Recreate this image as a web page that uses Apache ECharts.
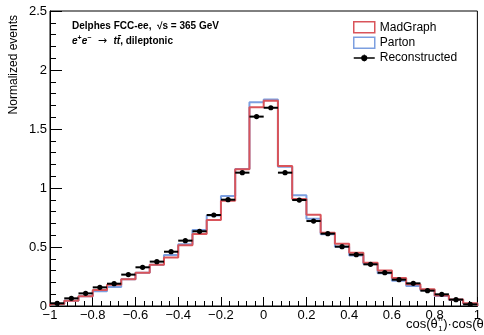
<!DOCTYPE html>
<html>
<head>
<meta charset="utf-8">
<script src="https://cdn.jsdelivr.net/npm/echarts@6/dist/echarts.min.js"></script>
<style>
  html, body { margin: 0; padding: 0; background: #fff; }
  #main { width: 484px; height: 335px; }
</style>
</head>
<body>
<div id="main"></div>
<script>
// binning: 30 bins on [-1, 1]
var xMin = -1, xMax = 1, nBins = 30;

// values, one per bin
var madgraph = [0.017, 0.045, 0.082, 0.136, 0.180, 0.226, 0.282, 0.350, 0.410, 0.514,
                0.610, 0.729, 0.893, 1.158, 1.684, 1.740, 1.186, 0.907, 0.774, 0.621,
                0.528, 0.452, 0.367, 0.300, 0.237, 0.184, 0.141, 0.090, 0.056, 0.023];
var parton   = [0.017, 0.045, 0.082, 0.124, 0.160, 0.226, 0.282, 0.350, 0.432, 0.523,
                0.644, 0.766, 0.932, 1.161, 1.726, 1.751, 1.180, 0.938, 0.740, 0.607,
                0.503, 0.427, 0.356, 0.277, 0.215, 0.170, 0.133, 0.085, 0.054, 0.020];
var reco     = [0.023, 0.065, 0.107, 0.158, 0.189, 0.266, 0.328, 0.376, 0.460, 0.554,
                0.633, 0.771, 0.901, 1.130, 1.605, 1.680, 1.130, 0.898, 0.720, 0.613,
                0.503, 0.435, 0.353, 0.282, 0.223, 0.192, 0.130, 0.099, 0.054, 0.014];

var red = '#d9545a';
var blue = '#7c9fe0';
var font = '"Liberation Sans", Arial, sans-serif';

var binW = (xMax - xMin) / nBins;

// histogram outline as step points on bin edges
function stepData(vals) {
    var pts = [[xMin, 0]];
    vals.forEach(function (v, i) {
        pts.push([xMin + i * binW, v]);
    });
    pts.push([xMax, vals[vals.length - 1]]);
    pts.push([xMax, 0]);
    return pts;
}

var recoData = reco.map(function (v, i) {
    return [xMin + (i + 0.5) * binW, v];
});

function renderReco(params, api) {
    var x = api.value(0), y = api.value(1);
    var l = api.coord([x - binW / 2, y]);
    var r = api.coord([x + binW / 2, y]);
    var c = api.coord([x, y]);
    return {
        type: 'group',
        children: [{
            type: 'line',
            shape: { x1: l[0], y1: l[1], x2: r[0], y2: r[1] },
            style: { stroke: '#000', lineWidth: 2 }
        }, {
            type: 'circle',
            shape: { cx: c[0], cy: c[1], r: 2.6 },
            style: { fill: '#000' }
        }]
    };
}

function fmt(v) {
    var s = v === 0 ? '0' : String(+v.toFixed(1));
    return s.replace('-', '\u2212');
}

// x title: cos(θ_1^n)·cos(θ_2^n) with stacked sub/superscripts
var ctx = document.createElement('canvas').getContext('2d');
function textW(t, f) { ctx.font = f; return ctx.measureText(t).width; }
function xTitle(x0, y0) {
    var big = '13px ' + font, small = '8px ' + font;
    var parts = [['cos(\u03B8', 'n', '1'], [')\u00B7cos(\u03B8', 'n', '2'], [')', null, null]];
    var out = [], x = x0;
    parts.forEach(function (p) {
        out.push({ type: 'text', x: x, y: y0,
            style: { text: p[0], font: big, fill: '#000', verticalAlign: 'middle' } });
        x += textW(p[0], big);
        if (p[1]) {
            out.push({ type: 'text', x: x + 0.5, y: y0 - 5,
                style: { text: p[1], font: small, fill: '#000', verticalAlign: 'middle' } });
            out.push({ type: 'text', x: x + 0.5, y: y0 + 5,
                style: { text: p[2], font: small, fill: '#000', verticalAlign: 'middle' } });
            x += textW(p[1], small) + 1;
        }
    });
    return out;
}

var myChart = echarts.init(document.getElementById('main'), null, { renderer: 'canvas' });

myChart.setOption({
    animation: false,
    backgroundColor: '#fff',
    textStyle: { fontFamily: font },
    grid: {
        left: 50, right: 2, top: 11, bottom: 29,
        show: true, borderColor: '#000', borderWidth: 1
    },
    legend: {
        left: 353, top: 21,
        orient: 'vertical',
        itemWidth: 21, itemHeight: 11, itemGap: 3,
        padding: 0,
        textStyle: { fontFamily: font, fontSize: 12, color: '#000' },
        data: [{
            name: 'MadGraph', icon: 'rect',
            itemStyle: { color: 'rgba(0,0,0,0)', borderColor: red, borderWidth: 1.5 }
        }, {
            name: 'Parton', icon: 'rect',
            itemStyle: { color: 'rgba(0,0,0,0)', borderColor: blue, borderWidth: 1.5 }
        }, {
            name: 'Reconstructed',
            icon: 'path://M0,5.3H21V6.7H0Z M7.4,6A3.1,3.1 0 1 1 13.6,6A3.1,3.1 0 1 1 7.4,6Z M10,2.5H11V9.5H10Z',
            itemStyle: { color: '#000', borderWidth: 0 }
        }]
    },
    xAxis: {
        type: 'value',
        min: xMin, max: xMax, interval: 0.2,
        axisLine: { show: true, onZero: false, lineStyle: { color: '#000', width: 1 } },
        axisTick: { show: true, inside: true, length: 9, lineStyle: { color: '#000' } },
        minorTick: { show: true, splitNumber: 5, length: 5, lineStyle: { color: '#000' } },
        splitLine: { show: false },
        axisLabel: {
            color: '#000', fontSize: 13, fontFamily: font, margin: 3,
            showMinLabel: true, showMaxLabel: true,
            formatter: fmt
        }
    },
    yAxis: {
        type: 'value',
        min: 0, max: 2.5, interval: 0.5,
        axisLine: { show: true, onZero: false, lineStyle: { color: '#000', width: 1 } },
        axisTick: { show: true, inside: true, length: 12, lineStyle: { color: '#000' } },
        minorTick: { show: true, splitNumber: 5, length: 6, lineStyle: { color: '#000' } },
        splitLine: { show: false },
        axisLabel: {
            color: '#000', fontSize: 13, fontFamily: font, margin: 3,
            formatter: fmt
        }
    },
    graphic: [{
        // y axis title
        type: 'text',
        x: 14, y: 15,
        rotation: Math.PI / 2,
        style: {
            text: 'Normalized events',
            font: '12px ' + font,
            fill: '#000',
            align: 'right',
            verticalAlign: 'middle'
        }
    }, {
        type: 'group',
        children: xTitle(406, 324)
    }, {
        type: 'text',
        x: 72, y: 26,
        style: {
            text: 'Delphes FCC-ee,  \u221As = 365 GeV',
            font: 'bold 10px ' + font,
            fill: '#000',
            verticalAlign: 'middle'
        }
    }, {
        type: 'text',
        x: 72, y: 41,
        style: {
            text: '{i|e}{sup|+}{i|e}{sup|\u2212}{a| \u2192 }{i|tt\u0304}{b|, dileptonic}',
            verticalAlign: 'middle',
            rich: {
                i: { font: 'italic bold 10px ' + font, fill: '#000' },
                b: { font: 'bold 10px ' + font, fill: '#000' },
                a: { font: '11px "DejaVu Sans"', fill: '#000', padding: [0, 3, 0, 3] },
                sup: { font: 'bold 7px ' + font, fill: '#000', padding: [0, 0, 6, 0] }
            }
        }
    }],
    series: [{
        name: 'Parton',
        type: 'line',
        step: 'end',
        symbol: 'none',
        data: stepData(parton),
        lineStyle: { color: blue, width: 2 },
        itemStyle: { color: blue },
        z: 2
    }, {
        name: 'MadGraph',
        type: 'line',
        step: 'end',
        symbol: 'none',
        data: stepData(madgraph),
        lineStyle: { color: red, width: 2 },
        itemStyle: { color: red },
        z: 3
    }, {
        name: 'Reconstructed',
        type: 'custom',
        renderItem: renderReco,
        itemStyle: { color: '#000' },
        encode: { x: 0, y: 1 },
        data: recoData,
        z: 4
    }]
});
</script>
</body>
</html>
